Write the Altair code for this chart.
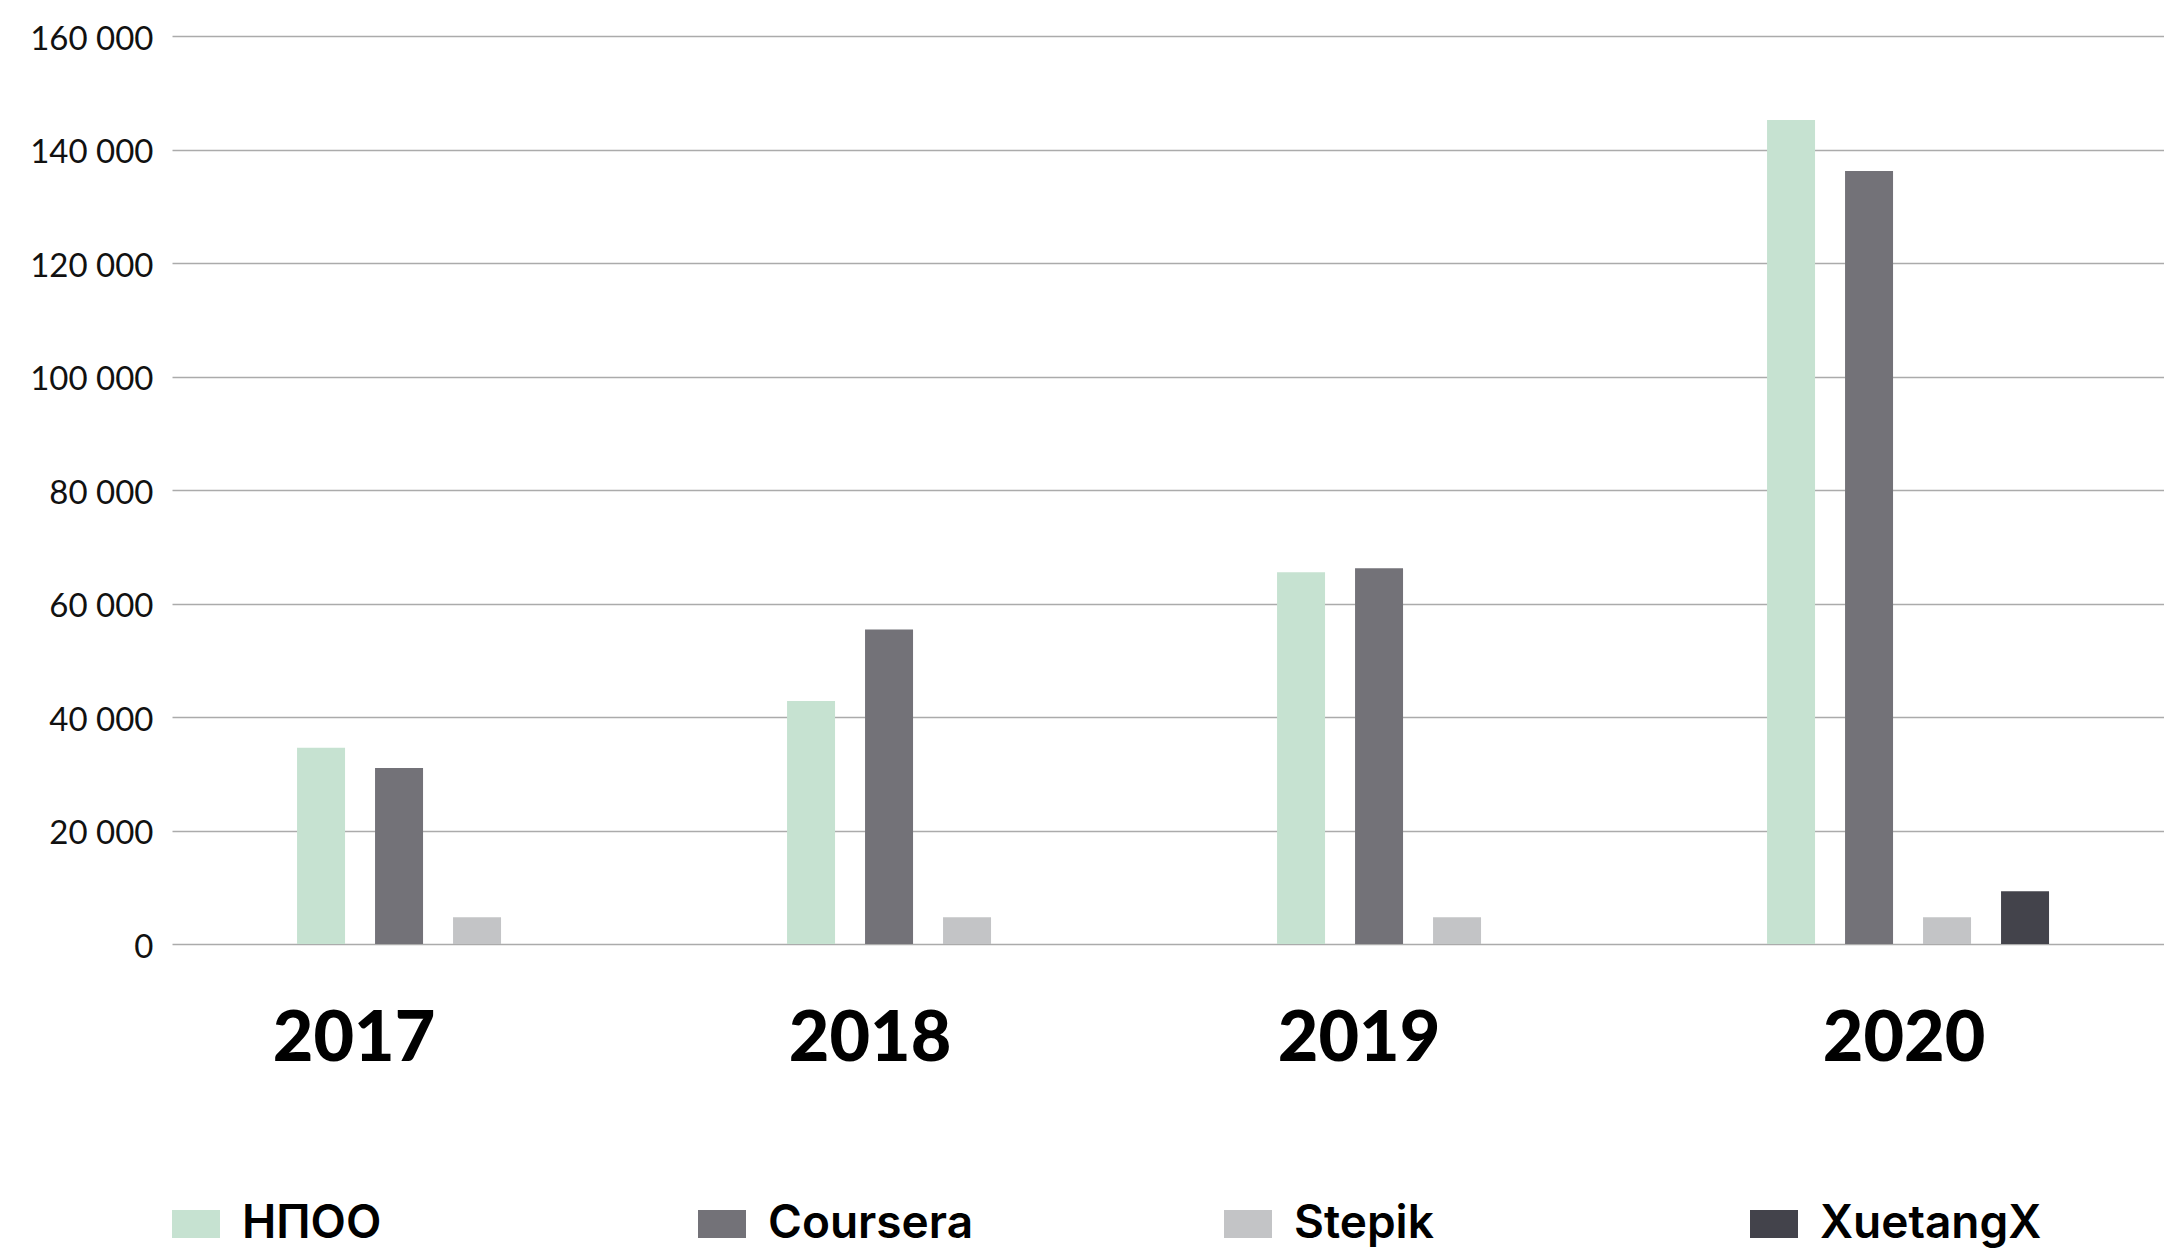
import altair as alt
import pandas as pd

years = ["2017", "2018", "2019", "2020"]
series = ["НПОО", "Coursera", "Stepik", "XuetangX"]
npoo = [34600, 42800, 65500, 145200]
coursera = [31000, 55400, 66200, 136200]
stepik = [4700, 4700, 4700, 4700]
xuetangx = [None, None, None, 9300]
colors = ["#c6e2d1", "#737278", "#c3c4c6", "#43434b"]
y_ticks = [0, 20000, 40000, 60000, 80000, 100000, 120000, 140000, 160000]

rows = []
for name, vals in zip(series, [npoo, coursera, stepik, xuetangx]):
    for yr, v in zip(years, vals):
        if v is not None:
            rows.append({"year": yr, "series": name, "value": v})
df = pd.DataFrame(rows)

chart = alt.Chart(df).mark_bar(strokeWidth=0).encode(
    x=alt.X(
        "year:N",
        sort=years,
        scale=alt.Scale(paddingInner=0.3633, paddingOuter=0.2143, align=0.524),
        axis=alt.Axis(
            title=None, domain=False, ticks=False, grid=False, labelAngle=0,
            labelFont="Lato", labelFontWeight=900, labelFontSize=70,
            labelColor="#000000", labelBaseline="alphabetic", labelPadding=116,
            labelOffset=alt.ExprRef(
                "datum.label == '2017' ? -84 : datum.label == '2018' ? -58 : datum.label == '2019' ? -59 : -4"
            ),
        ),
    ),
    xOffset=alt.XOffset(
        "series:N", sort=series,
        scale=alt.Scale(paddingInner=0.3846, paddingOuter=0.1923),
    ),
    y=alt.Y(
        "value:Q",
        scale=alt.Scale(domain=[0, 160000], nice=False),
        axis=alt.Axis(
            title=None, domain=False, ticks=False, values=y_ticks,
            grid=True, gridColor="#ababab", gridWidth=1.5,
            labelFont="Lato", labelFontSize=33, labelColor="#111111",
            labelPadding=19, labelOffset=3,
            labelExpr="replace(format(datum.value, ','), regexp(',', 'g'), ' ')",
        ),
    ),
    color=alt.Color(
        "series:N",
        sort=series,
        scale=alt.Scale(domain=series, range=colors),
        legend=alt.Legend(
            title=None, orient="none", legendX=0, legendY=1164,
            direction="horizontal", columns=4, gridAlign="all",
            columnPadding=234, padding=0,
            symbolType="M-1,-0.583L1,-0.583L1,0.583L-1,0.583Z",
            symbolSize=2304, symbolStrokeWidth=0, symbolOpacity=1,
            labelFont="Inter", labelFontWeight=600, labelFontSize=46,
            labelColor="#000000", labelOffset=22, labelLimit=600,
        ),
    ),
).properties(
    width=1992,
    height=908,
    autosize=alt.AutoSizeParams(type="none"),
    padding={"left": 164, "top": 28, "right": 0, "bottom": 304},
    background="#ffffff",
).configure_view(stroke=None)

chart.save("out.html", embed_options={"renderer": "svg", "actions": False})
